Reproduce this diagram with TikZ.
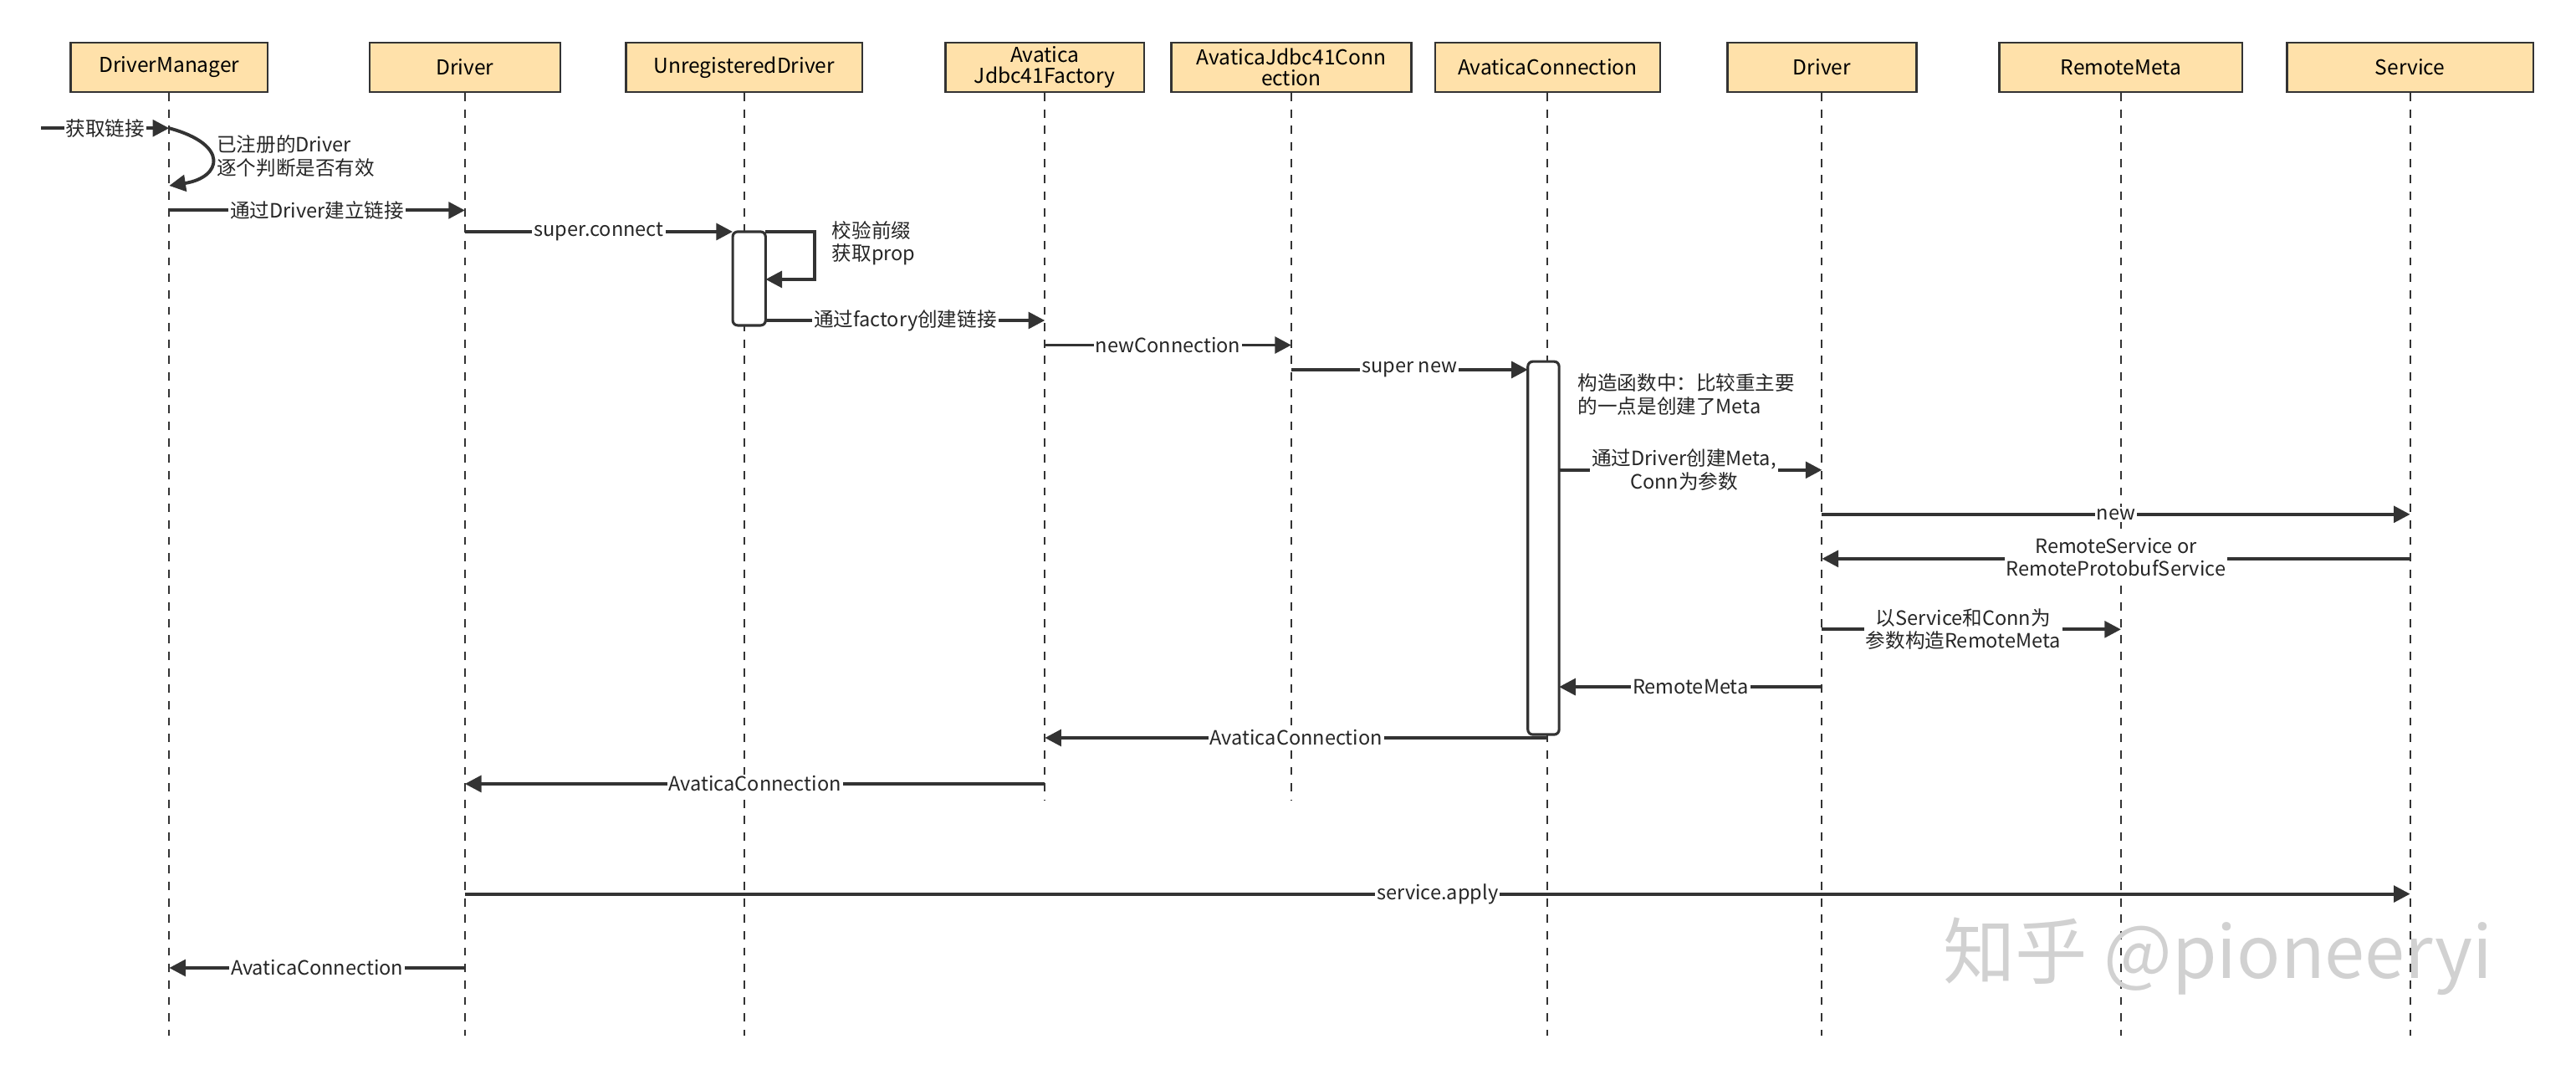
\documentclass[tikz,border=0pt]{standalone}
\usepackage{fontspec}
\setmainfont{Noto Sans CJK SC}
\usetikzlibrary{arrows.meta}
\definecolor{boxfill}{RGB}{255,225,170}
\begin{document}
\begin{tikzpicture}[x=1pt,y=-1pt,font=\fontsize{12}{14}\selectfont,
  box/.style={draw=black!80,line width=1.2pt,fill=boxfill,minimum height=30pt,align=center,inner sep=1pt,font=\fontsize{12.5}{13}\selectfont},
  life/.style={dashed,dash pattern=on 5pt off 5pt,line width=1pt,black!80},
  msg/.style={line width=2pt,black!80,-{Triangle[length=10pt,width=10pt]}},
  lab/.style={fill=white,inner sep=1pt,align=center,text=black!85},
  act/.style={draw=black!80,line width=1.6pt,fill=white,rounded corners=3pt}]
\useasboundingbox (0,0) rectangle (1568,654);
\foreach \n/\x/\w/\t in {dm/103/120/DriverManager, dr/283/116/Driver, ur/453/144/UnregisteredDriver, fa/636/121/{Avatica\\Jdbc41Factory}, jc/786/146/{AvaticaJdbc41Conn\\ection}, ac/942/137/AvaticaConnection, d2/1109/115/Driver, rm/1291/148/RemoteMeta, sv/1467/150/Service}
  \node[box,minimum width=\w pt] (\n) at (\x,41) {\t};
\foreach \n/\e in {dm/630,dr/630,ur/630,fa/487,jc/487,ac/630,d2/630,rm/630,sv/630}
  \draw[life] (\n.south) -- (\n.south |- 0,\e) coordinate (\n e);
\draw[act] (446,141) rectangle (466,198);
\draw[act] (930,220) rectangle (949,447);
% messages
\coordinate (s0) at (25,78);
\draw[msg] (s0) -- (dm.south |- 0,78) node[lab,midway] {获取链接};
\draw[msg] (dm.south |- 0,78) .. controls (140,88) and (135,108) .. (dm.south |- 0,113);
\node[lab,fill=none,align=left] (n1) at (180,95) {已注册的Driver\\逐个判断是否有效};
\draw[msg] (dm.south |- 0,128) -- (dr.south |- 0,128) node[lab,midway] {通过Driver建立链接};
\draw[msg] (dr.south |- 0,141) -- (446,141) node[lab,midway] {super.connect};
\draw[msg] (466,141) -- (496,141) -- (496,170) -- (466,170);
\node[align=left,anchor=west,text=black!85] (n2) at (503,148) {校验前缀\\获取prop};
\draw[msg] (466,195) -- (fa.south |- 0,195) node[lab,midway] {通过factory创建链接};
\draw[msg] (fa.south |- 0,210) -- (jc.south |- 0,210) node[lab,midway] {newConnection};
\draw[msg] (jc.south |- 0,225) -- (930,225) node[lab,midway] {super new};
\node[align=left,anchor=west,text=black!85] (n3) at (957,240) {构造函数中：比较重主要\\的一点是创建了Meta};
\draw[msg] (949,286) -- (d2.south |- 0,286) node[lab,midway,xshift=-4pt] {通过Driver创建Meta,\\Conn为参数};
\draw[msg] (d2.south |- 0,313) -- (sv.south |- 0,313) node[lab,midway] {new};
\draw[msg] (sv.south |- 0,340) -- (d2.south |- 0,340) node[lab,midway,yshift=1pt] {RemoteService or\\RemoteProtobufService};
\draw[msg] (d2.south |- 0,383) -- (rm.south |- 0,383) node[lab,midway,xshift=-5pt] {以Service和Conn为\\参数构造RemoteMeta};
\draw[msg] (d2.south |- 0,418) -- (949,418) node[lab,midway] {RemoteMeta};
\draw[msg] (ac.south |- 0,449) -- (fa.south |- 0,449) node[lab,midway] {AvaticaConnection};
\draw[msg] (fa.south |- 0,477) -- (dr.south |- 0,477) node[lab,midway] {AvaticaConnection};
\draw[msg] (dr.south |- 0,544) -- (sv.south |- 0,544) node[lab,midway] {service.apply};
\draw[msg] (dr.south |- 0,589) -- (dm.south |- 0,589) node[lab,midway] {AvaticaConnection};
\node[text=black!18,font=\fontsize{44}{48}\selectfont] (wm) at (1350,582) {知乎 @pioneeryi};
\end{tikzpicture}
\end{document}
